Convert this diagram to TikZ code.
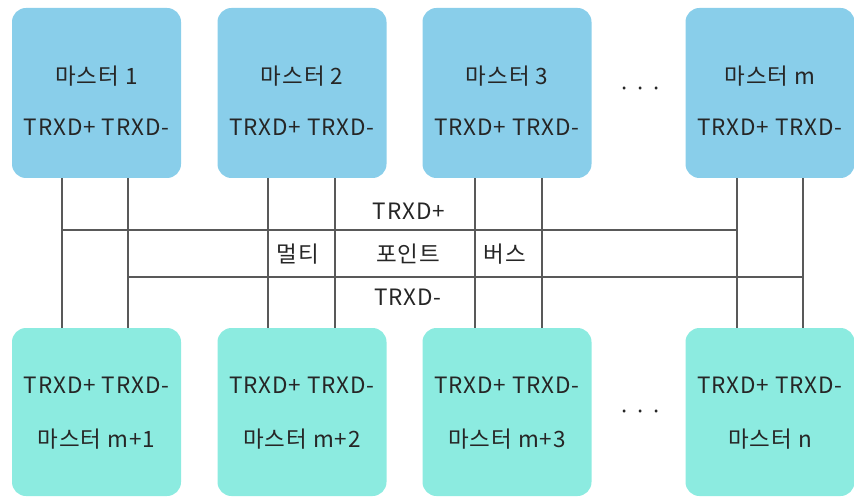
\documentclass[tikz,border=0pt]{standalone}
\usepackage{fontspec}
\setmainfont[LetterSpace=4]{Noto Sans CJK KR}
\definecolor{topc}{RGB}{137,206,234}
\definecolor{botc}{RGB}{140,235,224}
\begin{document}
\begin{tikzpicture}[x=1pt,y=1pt,
  box/.style={rounded corners=14pt, minimum width=169pt, minimum height=170pt, inner sep=0pt, draw=none},
  topbox/.style={box, fill=topc},
  botbox/.style={box, fill=botc, minimum height=168pt},
  txt/.style={font=\fontsize{22.5}{22.5}\selectfont, inner sep=0pt, text=black!85},
  dotsty/.style={txt, font=\fontsize{22}{22}\selectfont},
  wire/.style={draw=black!65, line width=1.1pt}]
\useasboundingbox (0,0) rectangle (854,-497);
% top boxes
\node[topbox] (t1) at (96.5,-93) {};
\node[topbox] (t2) at (302,-93) {};
\node[topbox] (t3) at (507,-93) {};
\node[topbox] (t4) at (770,-93) {};
% bottom boxes
\node[botbox] (b1) at (96.5,-412) {};
\node[botbox] (b2) at (302,-412) {};
\node[botbox] (b3) at (507,-412) {};
\node[botbox] (b4) at (770,-412) {};
% texts
\foreach \n/\lab in {t1/1,t2/2,t3/3,t4/m}{
  \node[txt] (\n name) at ([yshift=17pt]\n.center) {마스터 \lab};
  \node[txt] (\n pins) at ([yshift=-34pt]\n.center) {TRXD+ TRXD-};
}
\foreach \n/\lab in {b1/m+1,b2/m+2,b3/m+3,b4/n}{
  \node[txt] (\n pins) at ([yshift=27pt]\n.center) {TRXD+ TRXD-};
  \node[txt] (\n name) at ([yshift=-27pt]\n.center) {마스터 \lab};
}
\node[dotsty] (dotsT) at (641,-92) {·\,·\,·};
\node[dotsty] (dotsB) at (641,-415) {·\,·\,·};
% wire x positions
\coordinate (a1) at (62,0);  \coordinate (c1) at (128,0);
\coordinate (a2) at (268,0); \coordinate (c2) at (335,0);
\coordinate (a3) at (475,0); \coordinate (c3) at (542,0);
\coordinate (a4) at (737,0); \coordinate (c4) at (803,0);
\coordinate (hp) at (0,-230);
\coordinate (hm) at (0,-277);
\foreach \i in {1,2,3,4}{
  \draw[wire] (t\i.south -| a\i) -- (b\i.north -| a\i);
  \draw[wire] (t\i.south -| c\i) -- (b\i.north -| c\i);
}
\draw[wire] (a1 |- hp) -- (a4 |- hp);
\draw[wire] (c1 |- hm) -- (c4 |- hm);
% bus labels
\node[txt] (lp) at (409,-211) {TRXD+};
\node[txt] (l1) at (298,-254) {멀티};
\node[txt] (l2) at (408,-254) {포인트};
\node[txt] (l3) at (505,-254) {버스};
\node[txt] (lm) at (408,-297) {TRXD-};
\end{tikzpicture}
\end{document}
